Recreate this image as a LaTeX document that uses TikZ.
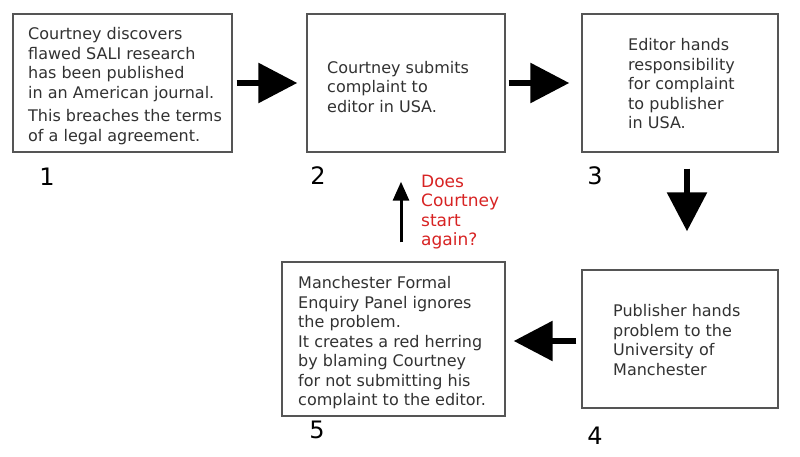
\documentclass[tikz,border=0pt]{standalone}
\usepackage{fontspec}
\setmainfont{DejaVu Sans}
\usetikzlibrary{arrows.meta}
\definecolor{boxline}{RGB}{85,85,85}
\definecolor{txtgray}{RGB}{50,50,50}
\definecolor{askred}{RGB}{215,35,35}
\tikzset{
  stepbox/.style={draw=boxline, line width=1.4pt, fill=white, inner sep=0pt},
  boxtext/.style={anchor=west, align=left, inner sep=0pt, text=txtgray,
    font=\fontsize{16}{19.5}\selectfont},
  numlabel/.style={inner sep=0pt, font=\fontsize{24}{24}\selectfont, text=black},
  bigarrow/.style={line width=6pt, draw=black, -{Triangle[length=39pt,width=39pt]}},
  thinarrow/.style={line width=3pt, draw=black, -{Triangle[length=19pt,width=16pt]}},
  asktext/.style={anchor=west, align=left, inner sep=0pt, text=askred,
    font=\fontsize{17}{19.5}\selectfont}
}
\begin{document}
\begin{tikzpicture}[x=1pt,y=-1pt]
\useasboundingbox (0,0) rectangle (800,457);
% boxes
\node[stepbox, minimum width=219pt, minimum height=138pt] (b1) at (122.5,83) {};
\node[stepbox, minimum width=198pt, minimum height=138pt] (b2) at (406,83) {};
\node[stepbox, minimum width=196pt, minimum height=138pt] (b3) at (680,83) {};
\node[stepbox, minimum width=196pt, minimum height=138pt] (b4) at (680,339) {};
\node[stepbox, minimum width=223pt, minimum height=154pt] (b5) at (393.5,339) {};
% texts
\node[boxtext] (t1) at (28,86) {Courtney discovers\\flawed SALI research\\has been published\\in an American journal.\\[4pt]This breaches the terms\\of a legal agreement.};
\node[boxtext] (t2) at (327,87) {Courtney submits\\complaint to\\editor in USA.};
\node[boxtext] (t3) at (628,84) {Editor hands\\responsibility\\for complaint\\to publisher\\in USA.};
\node[boxtext] (t4) at (613,340) {Publisher hands\\problem to the\\University of\\Manchester};
\node[boxtext] (t5) at (298,343) {Manchester Formal\\Enquiry Panel ignores\\the problem.\\It creates a red herring\\by blaming Courtney\\for not submitting his\\complaint to the editor.};
% numbers
\node[numlabel] (n1) at (47,177) {1};
\node[numlabel] (n2) at (318,176) {2};
\node[numlabel] (n3) at (595,176) {3};
\node[numlabel] (n4) at (595,436) {4};
\node[numlabel] (n5) at (317,430) {5};
% question
\node[asktext] (q) at (421,212) {Does\\Courtney\\start\\again?};
% arrows
\draw[bigarrow, shorten <=4pt, shorten >=9pt] (b1.east) -- (b2.west);
\draw[bigarrow, shorten <=3pt, shorten >=12pt] (b2.east) -- (b3.west);
\draw[bigarrow, shorten <=16pt, shorten >=38pt] ([xshift=7pt]b3.south) -- ([xshift=7pt]b4.north);
\draw[bigarrow, shorten <=5pt, shorten >=8pt] ([yshift=-2pt]b4.west) -- ([yshift=-2pt]b5.east);
\draw[thinarrow, shorten <=19pt, shorten >=29pt] ([xshift=7.5pt]b5.north) -- ([xshift=-5pt]b2.south);
\end{tikzpicture}
\end{document}
